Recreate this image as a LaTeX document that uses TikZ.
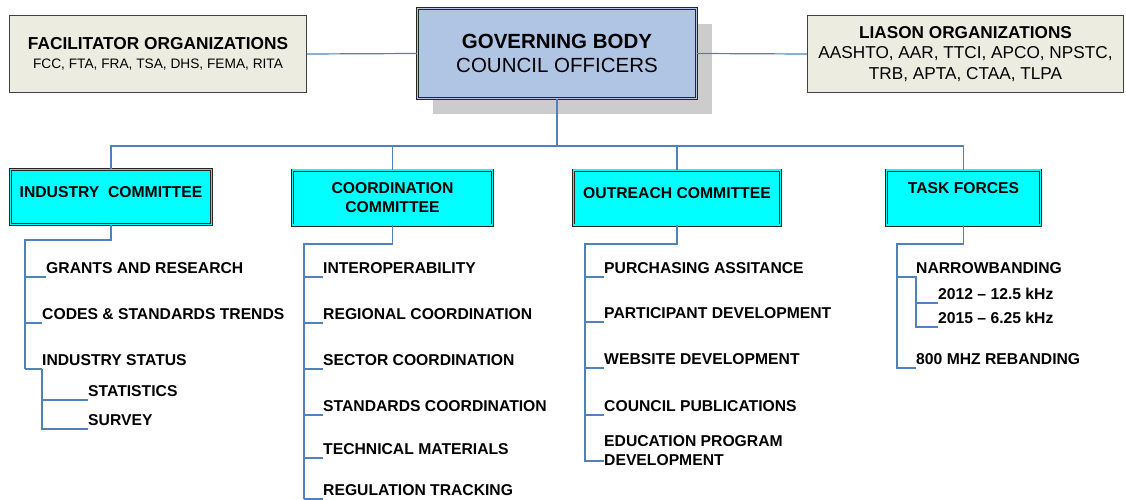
\documentclass[tikz,border=0pt]{standalone}
\usepackage{fontspec}
\setmainfont{Liberation Sans}
\usetikzlibrary{shadows}
\definecolor{linkblue}{RGB}{79,129,189}
\definecolor{govblue}{RGB}{176,196,228}
\definecolor{orgbeige}{RGB}{236,236,224}
\definecolor{shadegray}{RGB}{204,204,204}
\definecolor{comcyan}{RGB}{0,255,255}
\tikzset{
 link/.style={linkblue,line width=1.2pt},
 orgbox/.style={draw=black!75,line width=0.9pt,fill=orgbeige,inner sep=0pt,align=center,minimum height=77pt},
 govbox/.style={draw=black!85,double=govblue,double distance=1.6pt,line width=0.7pt,fill=govblue,inner sep=0pt,
  align=center,minimum width=279pt,minimum height=90pt,font=\fontsize{20.5}{24}\selectfont,
  drop shadow={shadow xshift=15pt,shadow yshift=-16pt,fill=shadegray,opacity=1}},
 combox/.style={draw=black!85,double=comcyan,double distance=1.6pt,line width=0.7pt,fill=comcyan,inner sep=0pt,
  align=center,minimum height=55pt,font=\fontsize{15.7}{19}\selectfont\bfseries},
 item/.style={anchor=south west,inner xsep=0pt,inner ysep=3.5pt,align=left,font=\fontsize{15.7}{18.5}\selectfont\bfseries}
}
\begin{document}
\begin{tikzpicture}[x=1pt,y=-1pt]
\useasboundingbox (0,0) rectangle (1126,500);
\node[orgbox,minimum width=297pt,font=\fontsize{17.3}{19}\selectfont] (fac) at (158,54)
 {\textbf{FACILITATOR ORGANIZATIONS}\\{\fontsize{13.7}{16}\selectfont FCC, FTA, FRA, TSA, DHS, FEMA, RITA}};
\node[govbox] (gov) at (557,53.5) {\textbf{GOVERNING BODY}\\COUNCIL OFFICERS};
\node[orgbox,minimum width=316pt,font=\fontsize{17.2}{20.5}\selectfont] (lia) at (965.5,54)
 {\textbf{LIASON ORGANIZATIONS}\\AASHTO, AAR, TTCI, APCO, NPSTC,\\TRB, APTA, CTAA, TLPA};
\draw[link] (fac.east) -- (gov.west) (gov.east) -- (lia.west);
\node[combox,minimum width=201pt,text height=11pt,text depth=10pt] (ind) at (111,197) {INDUSTRY\ \ COMMITTEE};
\node[combox,minimum width=200pt] (crd) at (392.5,197.5) {COORDINATION\\COMMITTEE};
\node[combox,minimum width=207pt,text height=11pt,text depth=10pt] (out) at (677,197.5) {OUTREACH COMMITTEE};
\node[combox,minimum width=154pt,text height=11pt,text depth=19pt] (tsk) at (963.5,197.5) {TASK FORCES};
\coordinate (bus) at (557,146);
\draw[link] (gov.south) -- (bus);
\draw[link] (ind.north) -- (ind.north |- bus) -- (tsk.north |- bus) -- (tsk.north);
\foreach \c in {crd,out} \draw[link] (\c.north) -- (\c.north |- bus);
\node[item] (g1) at (46,277) {GRANTS AND RESEARCH};
\node[item] (g2) at (42,323) {CODES \& STANDARDS TRENDS};
\node[item] (g3) at (42,369) {INDUSTRY STATUS};
\node[item] (g4) at (88,400) {STATISTICS};
\node[item] (g5) at (88,429) {SURVEY};
\coordinate (is) at (25,240);
\draw[link] (ind.south) |- (is) -- (is |- g3.south west);
\foreach \g in {g1,g2,g3} \draw[link] (is |- \g.south west) -- (\g.south west);
\draw[link] (g3.south west) |- (g5.south west);
\draw[link] (g3.south west |- g4.south west) -- (g4.south west);
\node[item] (c1) at (323,277) {INTEROPERABILITY};
\node[item] (c2) at (323,323) {REGIONAL COORDINATION};
\node[item] (c3) at (323,369) {SECTOR COORDINATION};
\node[item] (c4) at (323,415) {STANDARDS COORDINATION};
\node[item] (c5) at (323,458) {TECHNICAL MATERIALS};
\node[item] (c6) at (323,499) {REGULATION TRACKING};
\coordinate (cs) at (304,244);
\draw[link] (crd.south) |- (cs) -- (cs |- c6.south west);
\foreach \g in {c1,c2,c3,c4,c5,c6} \draw[link] (cs |- \g.south west) -- (\g.south west);
\node[item] (o1) at (604,277) {PURCHASING ASSITANCE};
\node[item] (o2) at (604,322) {PARTICIPANT DEVELOPMENT};
\node[item] (o3) at (604,368) {WEBSITE DEVELOPMENT};
\node[item] (o4) at (604,415) {COUNCIL PUBLICATIONS};
\node[item] (o5) at (604,469) {EDUCATION PROGRAM\\DEVELOPMENT};
\coordinate (os) at (585,244);
\coordinate (o5b) at ([yshift=8pt]o5.south west);
\draw[link] (out.south) |- (os) -- (os |- o5b) -- (o5b);
\foreach \g in {o1,o2,o3,o4} \draw[link] (os |- \g.south west) -- (\g.south west);
\node[item] (n1) at (916,277) {NARROWBANDING};
\node[item] (n2) at (938,303) {2012 -- 12.5 kHz};
\node[item] (n3) at (938,327) {2015 -- 6.25 kHz};
\node[item] (n4) at (916,368) {800 MHZ REBANDING};
\coordinate (ts) at (897,244);
\draw[link] (tsk.south) |- (ts) -- (ts |- n4.south west) -- (n4.south west);
\draw[link] (ts |- n1.south west) -- (n1.south west) |- (n3.south west);
\draw[link] (n1.south west |- n2.south west) -- (n2.south west);
\end{tikzpicture}
\end{document}
